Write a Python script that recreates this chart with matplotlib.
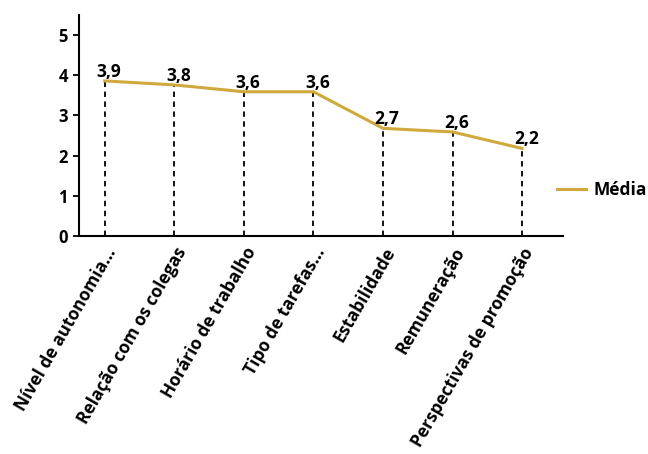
import matplotlib
matplotlib.use("Agg")
import matplotlib.pyplot as plt

categories = ["Nível de autonomia...", "Relação com os colegas", "Horário de trabalho",
              "Tipo de tarefas...", "Estabilidade", "Remuneração", "Perspectivas de promoção"]
media = [3.86, 3.76, 3.59, 3.59, 2.68, 2.59, 2.18]
value_labels = ["3,9", "3,8", "3,6", "3,6", "2,7", "2,6", "2,2"]
y_ticks = [0, 1, 2, 3, 4, 5]

plt.rcParams['font.family'] = ['Open Sans', 'DejaVu Sans']
plt.rcParams['font.stretch'] = 'normal'
plt.rcParams['font.weight'] = 'bold'

fig = plt.figure(figsize=(6.48, 4.54), dpi=100)
ax = fig.add_axes([0.122, 0.48, 0.747, 0.487])

x = list(range(len(categories)))
line_color = '#D0A93C'

ax.vlines(x, 0, media, colors='black', linestyles=(0, (3, 2.5)), linewidth=1.3, zorder=1)
ax.plot(x, media, color=line_color, linewidth=2.2, label='Média', zorder=2)

for xi, v, lab in zip(x, media, value_labels):
    ax.annotate(lab, (xi, v), xytext=(3, 0), textcoords='offset points',
                ha='center', va='bottom', fontsize=12.5, fontweight='bold')

ax.set_xlim(-0.37, 6.59)
ax.set_ylim(0, 5.5)
ax.set_yticks(y_ticks)
ax.set_yticklabels([str(t) for t in y_ticks], fontsize=12, fontweight='bold')
ax.set_xticks(x)
ax.set_xticklabels(categories, rotation=60, ha='right', rotation_mode='anchor',
                   fontsize=12.5, fontweight='bold')
ax.tick_params(axis='x', length=0, pad=6)
ax.tick_params(axis='y', length=4, width=1.3, direction='out', pad=4)

for side in ['top', 'right']:
    ax.spines[side].set_visible(False)
ax.spines['left'].set_linewidth(1.5)
ax.spines['bottom'].set_linewidth(1.5)

fig.legend(loc='center left', bbox_to_anchor=(0.835, 0.581), frameon=False,
           prop={'size': 12.5, 'weight': 'bold'},
           handlelength=1.7, handletextpad=0.4)

fig.savefig("out.png", dpi=100)
